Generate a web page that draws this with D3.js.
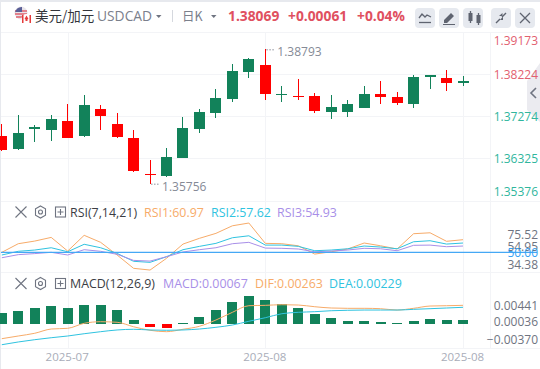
<!DOCTYPE html>
<html>
<head>
<meta charset="utf-8">
<script src="https://d3js.org/d3.v7.min.js"></script>
<style>
  html, body { margin: 0; padding: 0; background: #fff; overflow: hidden; }
  svg { display: block; font-family: "Open Sans", "Noto Sans CJK SC", sans-serif; }
</style>
</head>
<body>
<svg></svg>
<script>
// ------- data
const open_ = [1.36834, 1.36540, 1.36992, 1.36970, 1.37173, 1.36834, 1.37444, 1.37105, 1.36789, 1.35975, 1.35930, 1.36337, 1.36992, 1.37354, 1.37670, 1.38281, 1.38439, 1.37761, 1.37738, 1.37738, 1.37376, 1.37376, 1.37467, 1.37783, 1.37715, 1.37557, 1.38167, 1.38145, 1.38032]
const close_ = [1.36518, 1.36902, 1.37037, 1.37218, 1.36789, 1.37535, 1.37286, 1.36811, 1.36043, 1.35953, 1.36359, 1.37015, 1.37376, 1.37693, 1.38303, 1.38574, 1.37783, 1.37783, 1.37715, 1.37399, 1.37489, 1.37557, 1.37783, 1.37715, 1.37580, 1.38167, 1.38213, 1.38032, 1.38069]
const high = [1.37105, 1.37309, 1.37083, 1.37309, 1.37557, 1.37761, 1.37535, 1.37354, 1.36970, 1.36292, 1.36563, 1.37263, 1.37444, 1.37896, 1.38461, 1.38597, 1.38793, 1.37964, 1.38122, 1.37806, 1.37761, 1.37648, 1.37964, 1.38077, 1.37828, 1.38213, 1.38213, 1.38326, 1.38190]
const low = [1.36495, 1.36518, 1.36698, 1.36721, 1.36789, 1.36811, 1.36970, 1.36789, 1.36020, 1.35756, 1.35907, 1.36337, 1.36902, 1.37241, 1.37602, 1.38145, 1.37648, 1.37602, 1.37648, 1.37354, 1.37218, 1.37263, 1.37467, 1.37557, 1.37535, 1.37467, 1.37896, 1.37851, 1.37964]

const rsi1 = [50, 57.5, 59.8, 63, 51.1, 64.8, 58.7, 47.7, 36.1, 34.6, 44.8, 57.2, 62.2, 66.5, 73.1, 75.5, 57.8, 57.5, 55.7, 48.5, 50.5, 52.9, 58.1, 55.7, 52.9, 66.2, 67, 59.6, 61]
const rsi2 = [47.7, 50.9, 52, 54, 50.5, 57, 54, 49.1, 42.2, 41.3, 46.2, 52.3, 55.2, 57.8, 62.7, 64.4, 56.3, 56.3, 55.2, 51.4, 52, 53.1, 55.5, 54.6, 53.1, 59.2, 60.1, 57.2, 58.1]
const rsi3 = [45.3, 48, 48.9, 50, 47.7, 52.3, 50.9, 48.3, 43, 42.4, 46.2, 50.3, 52.3, 54, 57.5, 58.7, 53.7, 53.5, 52.9, 50.5, 51.1, 52, 53.5, 53.1, 51.4, 56.1, 56.3, 54.9, 55.5]

const macd = [.00173, .00205, .00252, .00283, .00252, .00299, .00299, .0022, .00063, -.00047, -.00063, .00016, .0011, .0022, .00346, .00441, .00378, .00315, .00252, .00157, .00094, .00047, .00047, .00031, .00016, .00047, .00079, .00063, .00063]
const dif = [-.00231, -.00189, -.00146, -.00079, -.00068, .00011, .00036, .00027, -.00043, -.00099, -.00121, -.00083, -.00036, .00063, .00184, .00288, .00294, .00304, .00299, .00272, .00252, .00247, .00247, .00241, .0022, .00247, .00283, .00288, .00294]
const dea = [-.00326, -.00283, -.00247, -.00216, -.00189, -.00153, -.00121, -.00094, -.00083, -.00094, -.00099, -.00094, -.00079, -.00052, -.00016, .00043, .00099, .00162, .00184, .00194, .00209, .00216, .0022, .0022, .0022, .00231, .00241, .00252, .00263]

const priceTicks = [1.39173, 1.38224, 1.37274, 1.36325, 1.35376]
const rsiTicks = [75.52, 54.95, 50, 34.38]
const macdTicks = [0.00441, 0.00036, -0.00370]
const dateTicks = [4, 16, 28]
const dateLabels = ['2025-07', '2025-08', '2025-08']

const headerPrice = ['1.38069', '+0.00061', '+0.04%']
const rsiLegend = ['RSI1:60.97', 'RSI2:57.62', 'RSI3:54.93']
const macdLegend = ['MACD:0.00067', 'DIF:0.00263', 'DEA:0.00229']

const width = 540
const height = 369
const upColor = '#12825a'
const downColor = '#ff0000'
const gridColor = '#f3f4f7'
const labelGrey = '#6f7481'
const orange = '#f7ab69'
const cyan = '#2fc3e0'
const purple = '#a88fe8'

const svg = d3.select('svg')
  .attr('width', width)
  .attr('height', height)
  .attr('viewBox', [0, 0, width, height])

const x = d3.scaleLinear().domain([0, 28]).range([1.8, 463])
const yPrice = d3.scaleLinear().domain([1.35376, 1.39173]).range([200.5, 32.5])
const yRsi = d3.scaleLinear().domain([34.38, 75.52]).range([270.3, 223])
const yMacd = d3.scaleLinear().domain([-0.00370, 0.00441]).range([347.5, 296])

// ------- frame and grid
svg.append('rect').attr('width', width).attr('height', 2).attr('fill', '#e7e9ee')
svg.append('rect').attr('y', 2).attr('width', 1).attr('height', height).attr('fill', '#e7e9ee')

const grid = svg.append('g').attr('stroke', gridColor).attr('stroke-width', 1).attr('shape-rendering', 'crispEdges')
grid.selectAll('.v').data(dateTicks).join('line')
  .attr('x1', d => Math.round(x(d)) + 0.5).attr('x2', d => Math.round(x(d)) + 0.5)
  .attr('y1', 33).attr('y2', 348)
grid.selectAll('.h').data([32.5, 74.5, 116.5, 158.5, 201.5, 272.5, 348.5]).join('line')
  .attr('class', 'h')
  .attr('x1', 1).attr('x2', d => d === 32.5 || d >= 201 ? width : 490)
  .attr('y1', d => d).attr('y2', d => d)
grid.append('line').attr('x1', 490.5).attr('x2', 490.5).attr('y1', 33).attr('y2', 348)

// collapse tab on the right
svg.append('path').attr('d', 'M540,63 L527,81 L527,110 L540,122 Z').attr('fill', '#ebebf0')
svg.append('path').attr('d', 'M536,88 L531,93 L536,98').attr('fill', 'none').attr('stroke', '#6f7481').attr('stroke-width', 1.6)

// ------- candles
const idx = d3.range(open_.length)
const candleColor = i => close_[i] >= open_[i] ? upColor : downColor

const candles = svg.append('g').attr('shape-rendering', 'crispEdges')
candles.selectAll('line').data(idx).join('line')
  .attr('x1', i => x(i)).attr('x2', i => x(i))
  .attr('y1', i => yPrice(high[i])).attr('y2', i => yPrice(low[i]))
  .attr('stroke', candleColor)
candles.selectAll('rect').data(idx).join('rect')
  .attr('x', i => x(i) - 5.5)
  .attr('width', 11)
  .attr('y', i => yPrice(Math.max(open_[i], close_[i])))
  .attr('height', i => Math.max(1, Math.abs(yPrice(open_[i]) - yPrice(close_[i]))))
  .attr('fill', candleColor)

// high / low notes
const hiIndex = d3.maxIndex(high)
const loIndex = d3.minIndex(low)
const notes = [
  { i: hiIndex, v: high[hiIndex], dy: 3 },
  { i: loIndex, v: low[loIndex], dy: 3 }
]
notes.forEach(n => {
  svg.append('line')
    .attr('x1', x(n.i) + 1).attr('x2', x(n.i) + 10)
    .attr('y1', yPrice(n.v) + 0.5).attr('y2', yPrice(n.v) + 0.5)
    .attr('stroke', '#8b8f9a').attr('stroke-dasharray', '1.5 1.5')
  svg.append('text')
    .attr('x', x(n.i) + 12).attr('y', yPrice(n.v) + n.dy + 4)
    .attr('font-size', 12).attr('fill', '#858a96')
    .text(n.v.toFixed(5))
})

// ------- rsi
const rsiLine = d3.line().x((d, i) => x(i)).y(d => yRsi(d))
;[[rsi1, orange], [rsi2, cyan], [rsi3, purple]].forEach(([values, color]) => {
  svg.append('path').attr('d', rsiLine(values)).attr('fill', 'none').attr('stroke', color).attr('stroke-width', 1)
})
svg.append('line')
  .attr('x1', 1).attr('x2', 537)
  .attr('y1', yRsi(50)).attr('y2', yRsi(50))
  .attr('stroke', '#45a8f5').attr('stroke-width', 1.2)

// ------- macd
const bars = svg.append('g').attr('shape-rendering', 'crispEdges')
bars.selectAll('rect').data(macd).join('rect')
  .attr('x', (d, i) => x(i) - 5)
  .attr('width', 10)
  .attr('y', d => d >= 0 ? yMacd(d) : yMacd(0))
  .attr('height', d => Math.abs(yMacd(d) - yMacd(0)))
  .attr('fill', d => d >= 0 ? upColor : downColor)

const macdLine = d3.line().x((d, i) => x(i)).y(d => yMacd(d)).curve(d3.curveMonotoneX)
;[[dif, orange], [dea, cyan]].forEach(([values, color]) => {
  svg.append('path').attr('d', macdLine(values)).attr('fill', 'none').attr('stroke', color).attr('stroke-width', 1)
})

// ------- axes; edge labels get pushed inside the panel
const yAxis = (scale, ticks, format, lo, hi, color, size) => g => {
  g.attr('transform', 'translate(538, 0)')
    .call(d3.axisRight(scale).tickValues(ticks).tickSize(0).tickFormat(format))
    .call(s => s.select('.domain').remove())
  g.selectAll('.tick text')
    .attr('x', 0)
    .attr('text-anchor', 'end')
    .attr('font-family', '"Open Sans", sans-serif')
    .attr('font-size', size)
    .attr('fill', color)
    .attr('dy', '0.35em')
    .attr('y', d => Math.min(Math.max(scale(d), lo), hi) - scale(d))
}

svg.append('g').call(yAxis(yPrice, priceTicks, d3.format('.5f'), 40.7, 191,
  d => d > 1.38 ? '#e2606f' : '#30b69d', 12))
svg.append('g').call(yAxis(yRsi, rsiTicks, d3.format('.2f'), 234.7, 264,
  d => d === 50 ? '#35a2f4' : labelGrey, 12))
svg.append('g').call(yAxis(yMacd, macdTicks, d3.format('.5f'), 305.7, 339.7, labelGrey, 12))

svg.append('g')
  .attr('transform', 'translate(0, 349)')
  .call(d3.axisBottom(x).tickValues(dateTicks).tickSize(0).tickFormat((d, i) => dateLabels[i]))
  .call(g => g.select('.domain').remove())
  .call(g => g.selectAll('.tick text')
    .attr('font-family', '"Open Sans", sans-serif')
    .attr('font-size', 11.5)
    .attr('fill', '#a9adb9')
    .attr('x', -1)
    .attr('y', 4))

// ------- header
const headerText = (tx, txt, size, color, weight) => svg.append('text')
  .attr('x', tx).attr('y', 20.5)
  .attr('font-size', size).attr('fill', color).attr('font-weight', weight || 400)
  .text(txt)

// flag
const flag = svg.append('g')
flag.append('circle').attr('cx', 21).attr('cy', 13).attr('r', 6.5).attr('fill', '#e8e4ea')
flag.append('path').attr('d', 'M15,11 h12 M15,14 h12 M16,17 h10').attr('stroke', '#e0606e').attr('stroke-width', 1.3)
flag.append('path').attr('d', 'M15,13 A6.5,6.5 0 0 1 22,7 L22,12 L15,12 Z').attr('fill', '#5a5f96')
flag.append('circle').attr('cx', 26.5).attr('cy', 19).attr('r', 5).attr('fill', '#fff')
flag.append('path').attr('d', 'M22,15 h1.5 v8 h-1.5 Z M29.5,15 h1.5 v8 h-1.5 Z').attr('fill', '#e53b3b')
flag.append('path').attr('d', 'M26.5,15.5 l2,3.5 l-1,0.3 v1.7 h-2 v-1.7 l-1,-0.3 Z').attr('fill', '#e53b3b')

headerText(35, '美元/加元', 13.5, '#33353b').attr('font-family', '"Noto Sans CJK SC", sans-serif')
headerText(97, 'USDCAD', 13.8, '#7b808c')
svg.append('path').attr('d', 'M156,15 h5.5 l-2.75,3 Z').attr('fill', '#6f7481')
svg.append('line').attr('x1', 172.5).attr('x2', 172.5).attr('y1', 10).attr('y2', 22).attr('stroke', '#d5d8de')
headerText(182, '日K', 12.5, '#7b808c').attr('font-family', '"Noto Sans CJK SC", sans-serif')
svg.append('path').attr('d', 'M211,15 h5.5 l-2.75,3 Z').attr('fill', '#6f7481')
headerText(228, headerPrice[0], 13.8, '#e0505f', 700)
headerText(288, headerPrice[1], 13.8, '#e0505f', 700)
headerText(357, headerPrice[2], 13.8, '#e0505f', 700)

// buttons
const buttonX = [415, 439, 463, 491, 515]
svg.append('g').selectAll('rect').data(buttonX).join('rect')
  .attr('x', d => d).attr('y', 8).attr('width', 20).attr('height', 20).attr('rx', 4)
  .attr('fill', '#e6e9ef')
const icon = { fill: 'none', stroke: '#5f6470', 'stroke-width': 1.3 }
const addIcon = d => {
  const p = svg.append('path').attr('d', d)
  Object.entries(icon).forEach(([k, v]) => p.attr(k, v))
  return p
}
addIcon('M419,18 l3,-4 l3,3 l2,-2 l4,2')
addIcon('M419,22.5 h12')
svg.append('path').attr('d', 'M444,20 l7,-7 l3,3 l-7,7 h-3 Z M443,24 h12 v1 h-12 Z').attr('fill', '#5f6470')
svg.append('path').attr('d', 'M468.5,13 h4 v8 h-4 Z M476.5,15 h4 v8 h-4 Z').attr('fill', '#5f6470')
addIcon('M470.5,11 v12 M478.5,13 v12')
svg.append('path').attr('d', 'M496,23 l4,-4 M502,17 l4,-4').attr('stroke', '#5f6470').attr('stroke-width', 1.4)
svg.append('path').attr('d', 'M499,16 h3.5 v-3 Z').attr('fill', '#5f6470')
svg.append('path').attr('d', 'M500,20 h3 v-3.5 Z').attr('fill', '#5f6470')
addIcon('M520,13 l10,10 M530,13 l-10,10')

// ------- indicator legends
const panelHead = (cy, name, legend, legendX, colors) => {
  const c = svg.append('g').attr('fill', 'none').attr('stroke', '#6f7481').attr('stroke-width', 1.1)
  c.append('path').attr('d', `M15.5,${cy - 5.5} l11,11 M26.5,${cy - 5.5} l-11,11`)
  c.append('path').attr('d', `M40.5,${cy - 6} l5,2.8 v6.4 l-5,2.8 l-5,-2.8 v-6.4 Z`)
  c.append('circle').attr('cx', 40.5).attr('cy', cy).attr('r', 2)
  c.append('rect').attr('x', 55.5).attr('y', cy - 5).attr('width', 10).attr('height', 10)
  c.append('path').attr('d', `M57.5,${cy} h6 M60.5,${cy - 3} v6`)
  const t = y => svg.append('text').attr('y', cy + 4.5).attr('font-size', 12.4)
  t().attr('x', 70).attr('fill', '#3a3d44').text(name)
  legend.forEach((d, i) => t().attr('x', legendX[i]).attr('fill', colors[i]).text(d))
}
panelHead(212, 'RSI(7,14,21)', rsiLegend, [144, 211, 277], [orange, cyan, purple])
panelHead(283.5, 'MACD(12,26,9)', macdLegend, [163, 255, 329], [purple, orange, cyan])
</script>
</body>
</html>
